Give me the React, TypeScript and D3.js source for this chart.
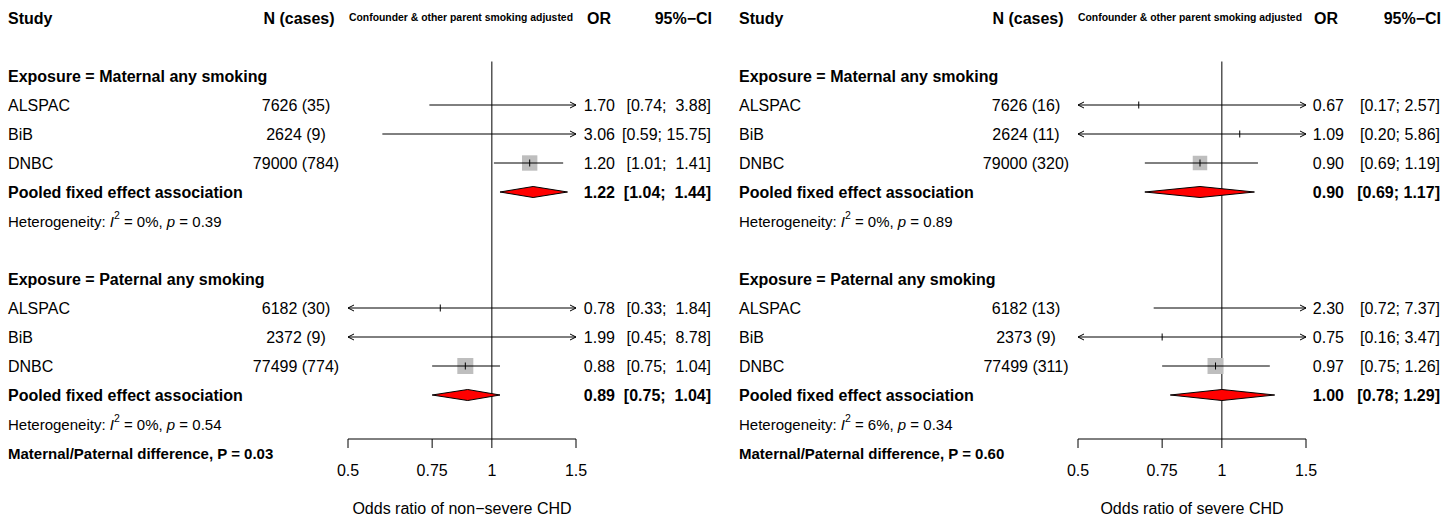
import React from 'react';
import * as d3 from 'd3';

// ---------- data ----------
const studies = ['ALSPAC', 'BiB', 'DNBC'];
const tickValues = [0.5, 0.75, 1, 1.5];
const tickLabels = ['0.5', '0.75', '1', '1.5'];

// Left panel: non-severe CHD
const nsMatN = [7626, 2624, 79000];
const nsMatCases = [35, 9, 784];
const nsMatOR = [1.7, 3.06, 1.2];
const nsMatLo = [0.74, 0.59, 1.01];
const nsMatHi = [3.88, 15.75, 1.41];
const nsMatPooled = [1.22, 1.04, 1.44];
const nsMatHet = [0, 0.39];

const nsPatN = [6182, 2372, 77499];
const nsPatCases = [30, 9, 774];
const nsPatOR = [0.78, 1.99, 0.88];
const nsPatLo = [0.33, 0.45, 0.75];
const nsPatHi = [1.84, 8.78, 1.04];
const nsPatPooled = [0.89, 0.75, 1.04];
const nsPatHet = [0, 0.54];
const nsDiffP = '0.03';

// Right panel: severe CHD
const sMatN = [7626, 2624, 79000];
const sMatCases = [16, 11, 320];
const sMatOR = [0.67, 1.09, 0.9];
const sMatLo = [0.17, 0.2, 0.69];
const sMatHi = [2.57, 5.86, 1.19];
const sMatPooled = [0.9, 0.69, 1.17];
const sMatHet = [0, 0.89];

const sPatN = [6182, 2373, 77499];
const sPatCases = [13, 9, 311];
const sPatOR = [2.3, 0.75, 0.97];
const sPatLo = [0.72, 0.16, 0.75];
const sPatHi = [7.37, 3.47, 1.26];
const sPatPooled = [1.0, 0.78, 1.29];
const sPatHet = [6, 0.34];
const sDiffP = '0.60';

const groupNames = ['Maternal any smoking', 'Paternal any smoking'];

// ---------- layout ----------
const FONT = '"Liberation Sans", Arial, Helvetica, sans-serif';
const ROW = 29;
const rowY = (i: number) => 18 + ROW * i;

type Group = {
  name: string; n: number[]; cases: number[]; or: number[]; lo: number[]; hi: number[];
  pooled: number[]; het: number[];
};

type Layout = {
  label: number; nCenter: number; nHead: number; fx0: number; fx1: number;
  orRight: number; orHead: number; ciRight: number; ciHead: number; confHead: number;
};

const leftGroups: Group[] = [
  { name: groupNames[0], n: nsMatN, cases: nsMatCases, or: nsMatOR, lo: nsMatLo, hi: nsMatHi, pooled: nsMatPooled, het: nsMatHet },
  { name: groupNames[1], n: nsPatN, cases: nsPatCases, or: nsPatOR, lo: nsPatLo, hi: nsPatHi, pooled: nsPatPooled, het: nsPatHet },
];
const rightGroups: Group[] = [
  { name: groupNames[0], n: sMatN, cases: sMatCases, or: sMatOR, lo: sMatLo, hi: sMatHi, pooled: sMatPooled, het: sMatHet },
  { name: groupNames[1], n: sPatN, cases: sPatCases, or: sPatOR, lo: sPatLo, hi: sPatHi, pooled: sPatPooled, het: sPatHet },
];

const leftLayout: Layout = { label: 8, nCenter: 296, nHead: 299, fx0: 348, fx1: 576, orRight: 615, orHead: 599, ciRight: 711, ciHead: 712, confHead: 461 };
const rightLayout: Layout = { label: 739, nCenter: 1026, nHead: 1028, fx0: 1078, fx1: 1306, orRight: 1344, orHead: 1326, ciRight: 1440, ciHead: 1441, confHead: 1190 };

function Panel({ groups, L, title, diffP }: { groups: Group[]; L: Layout; title: string; diffP: string }) {
  const x = d3.scaleLog().domain([0.5, 1.5]).range([L.fx0, L.fx1]);
  const [dMin, dMax] = x.domain();
  const allHi = groups.flatMap((g) => [...g.hi, g.pooled[2]]);
  const hiWidth = d3.max(allHi, (v) => v.toFixed(2).length) as number;
  const fmtCI = (lo: number, hi: number) => `[${lo.toFixed(2)}; ${hi.toFixed(2).padStart(hiWidth, ' ')}]`;
  const weights = groups.flatMap((g) => g.lo.map((lo, i) => {
    const se = (Math.log(g.hi[i]) - Math.log(lo)) / (2 * 1.96);
    return 1 / (se * se);
  }));
  const wMax = d3.max(weights) as number;
  const axisY = 439;
  const refTop = rowY(1.5);
  const els: React.ReactNode[] = [];
  const txt = { fontFamily: FONT, fontSize: 16, dominantBaseline: 'central' as const, whiteSpace: 'pre' as const };

  // headers
  els.push(<text key="h1" x={L.label} y={rowY(0)} style={{ ...txt, fontWeight: 'bold' }}>Study</text>);
  els.push(<text key="h2" x={L.nHead} y={rowY(0)} textAnchor="middle" style={{ ...txt, fontWeight: 'bold' }}>N (cases)</text>);
  els.push(<text key="h3" x={L.confHead} y={rowY(0) - 1} textAnchor="middle" style={{ ...txt, fontSize: 10.4, fontWeight: 'bold' }}>Confounder &amp; other parent smoking adjusted</text>);
  els.push(<text key="h4" x={L.orHead} y={rowY(0)} textAnchor="middle" style={{ ...txt, fontWeight: 'bold' }}>OR</text>);
  els.push(<text key="h5" x={L.ciHead} y={rowY(0)} textAnchor="end" style={{ ...txt, fontWeight: 'bold' }}>95%−CI</text>);

  // reference line
  els.push(<line key="ref" x1={x(1)} x2={x(1)} y1={refTop} y2={axisY} stroke="#000" strokeWidth={1} />);

  let wi = 0;
  groups.forEach((g, gi) => {
    const base = 2 + gi * 7;
    els.push(<text key={`g${gi}`} x={L.label} y={rowY(base)} style={{ ...txt, fontWeight: 'bold' }}>{`Exposure = ${g.name}`}</text>);
    studies.forEach((s, i) => {
      const y = rowY(base + 1 + i);
      const w = weights[wi++];
      const side = 16 * w / wMax;
      const te = g.or[i];
      const inRange = te >= dMin && te <= dMax;
      const lo = Math.max(g.lo[i], dMin);
      const hi = Math.min(g.hi[i], dMax);
      els.push(<text key={`s${gi}${i}`} x={L.label} y={y} style={txt}>{s}</text>);
      els.push(<text key={`n${gi}${i}`} x={L.nCenter} y={y} textAnchor="middle" style={txt}>{`${g.n[i]} (${g.cases[i]})`}</text>);
      els.push(<text key={`o${gi}${i}`} x={L.orRight} y={y} textAnchor="end" style={txt}>{te.toFixed(2)}</text>);
      els.push(<text key={`c${gi}${i}`} x={L.ciRight} y={y} textAnchor="end" style={txt}>{fmtCI(g.lo[i], g.hi[i])}</text>);
      if (inRange) {
        els.push(<rect key={`q${gi}${i}`} x={x(te) - side / 2} y={y - side / 2} width={side} height={side} fill="#BEBEBE" />);
      }
      els.push(<line key={`l${gi}${i}`} x1={x(lo)} x2={x(hi)} y1={y} y2={y} stroke="#000" strokeWidth={1} />);
      if (g.lo[i] < dMin) {
        const xa = x(dMin);
        els.push(<path key={`al${gi}${i}`} d={`M${xa + 6},${y - 3}L${xa},${y}L${xa + 6},${y + 3}`} fill="none" stroke="#000" strokeWidth={1} />);
      }
      if (g.hi[i] > dMax) {
        const xa = x(dMax);
        els.push(<path key={`ar${gi}${i}`} d={`M${xa - 6},${y - 3}L${xa},${y}L${xa - 6},${y + 3}`} fill="none" stroke="#000" strokeWidth={1} />);
      }
      if (inRange) {
        els.push(<line key={`t${gi}${i}`} x1={x(te)} x2={x(te)} y1={y - 3.5} y2={y + 3.5} stroke="#000" strokeWidth={1} />);
      }
    });
    const py = rowY(base + 4);
    const [pte, plo, phi] = g.pooled;
    els.push(<text key={`p${gi}`} x={L.label} y={py} style={{ ...txt, fontWeight: 'bold' }}>Pooled fixed effect association</text>);
    els.push(<text key={`po${gi}`} x={L.orRight} y={py} textAnchor="end" style={{ ...txt, fontWeight: 'bold' }}>{pte.toFixed(2)}</text>);
    els.push(<text key={`pc${gi}`} x={L.ciRight} y={py} textAnchor="end" style={{ ...txt, fontWeight: 'bold' }}>{fmtCI(plo, phi)}</text>);
    els.push(<polygon key={`d${gi}`} points={`${x(plo)},${py} ${x(pte)},${py - 5.5} ${x(phi)},${py} ${x(pte)},${py + 5.5}`} fill="#FF0000" stroke="#000" strokeWidth={1} />);
    const hy = rowY(base + 5);
    els.push(
      <text key={`het${gi}`} x={L.label} y={hy} style={{ ...txt, fontSize: 15 }}>
        {'Heterogeneity: '}
        <tspan fontStyle="italic">I</tspan>
        <tspan dy={-6} fontSize={10.5}>2</tspan>
        <tspan dy={6}>{` = ${g.het[0]}%, `}</tspan>
        <tspan fontStyle="italic">p</tspan>
        {` = ${g.het[1].toFixed(2)}`}
      </text>
    );
  });

  els.push(<text key="diff" x={L.label} y={rowY(15)} style={{ ...txt, fontSize: 15, fontWeight: 'bold' }}>{`Maternal/Paternal difference, P = ${diffP}`}</text>);

  // axis
  els.push(<line key="ax" x1={x(dMin)} x2={x(dMax)} y1={axisY} y2={axisY} stroke="#000" strokeWidth={1} />);
  tickValues.forEach((t, i) => {
    els.push(<line key={`tk${i}`} x1={x(t)} x2={x(t)} y1={axisY} y2={axisY + 9} stroke="#000" strokeWidth={1} />);
    els.push(<text key={`tl${i}`} x={x(t)} y={470} textAnchor="middle" style={txt}>{tickLabels[i]}</text>);
  });
  els.push(<text key="title" x={(L.fx0 + L.fx1) / 2} y={508} textAnchor="middle" style={txt}>{title}</text>);

  return <g>{els}</g>;
}

export default function App() {
  return (
    <svg width={1451} height={519} style={{ position: 'absolute', left: 0, top: 0, background: '#fff' }}>
      <rect width={1451} height={519} fill="#fff" />
      <Panel groups={leftGroups} L={leftLayout} title="Odds ratio of non−severe CHD" diffP={nsDiffP} />
      <Panel groups={rightGroups} L={rightLayout} title="Odds ratio of severe CHD" diffP={sDiffP} />
    </svg>
  );
}
